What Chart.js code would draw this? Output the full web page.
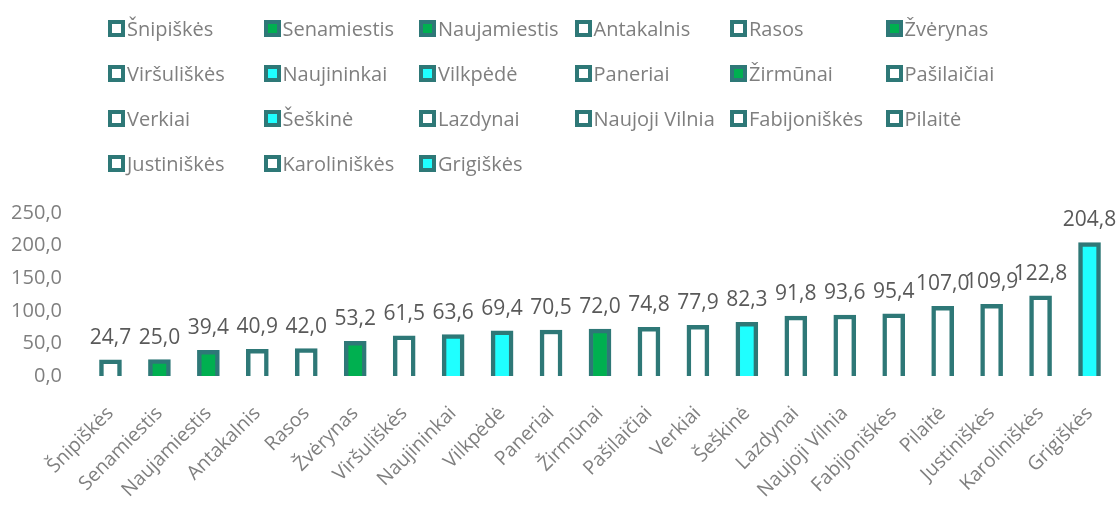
<!DOCTYPE html>
<html>
<head>
<meta charset="utf-8">
<script src="https://cdn.jsdelivr.net/npm/chart.js@4"></script>
<style>
  body { margin: 0; background: #fff; }
  #wrap { position: relative; width: 1117px; height: 514px; }
  #legend {
    position: absolute; left: 108px; top: 6px;
    display: grid; grid-template-columns: repeat(6, 155.5px); grid-auto-rows: 45px;
    font-family: 'Open Sans'; font-size: 20px; color: #7f7f7f;
  }
  .item { display: flex; align-items: center; white-space: nowrap; }
  .box { width: 9px; height: 9px; border: 4px solid #2e7877; margin-right: 2px; flex: none; }
</style>
</head>
<body>
<div id="wrap">
  <canvas id="myChart" width="1117" height="514"></canvas>
  <div id="legend"></div>
</div>
<script>
const districts = ['Šnipiškės', 'Senamiestis', 'Naujamiestis', 'Antakalnis', 'Rasos', 'Žvėrynas',
  'Viršuliškės', 'Naujininkai', 'Vilkpėdė', 'Paneriai', 'Žirmūnai', 'Pašilaičiai',
  'Verkiai', 'Šeškinė', 'Lazdynai', 'Naujoji Vilnia', 'Fabijoniškės', 'Pilaitė',
  'Justiniškės', 'Karoliniškės', 'Grigiškės'];
const values = [24.7, 25.0, 39.4, 40.9, 42.0, 53.2, 61.5, 63.6, 69.4, 70.5, 72.0, 74.8,
  77.9, 82.3, 91.8, 93.6, 95.4, 107.0, 109.9, 122.8, 204.8];
// w = white, g = green, c = cyan
const fills = ['w', 'g', 'g', 'w', 'w', 'g', 'w', 'c', 'c', 'w', 'g', 'w',
  'w', 'c', 'w', 'w', 'w', 'w', 'w', 'w', 'c'];
const yTicks = [0, 50, 100, 150, 200, 250];

const fillColors = { w: '#ffffff', g: '#00b050', c: '#1fffff' };
const edge = '#2e7877';
const fmt = v => v.toFixed(1).replace('.', ',');

// legend
const legend = document.getElementById('legend');
districts.forEach((name, i) => {
  const item = document.createElement('div');
  item.className = 'item';
  const box = document.createElement('span');
  box.className = 'box';
  box.style.background = fillColors[fills[i]];
  const txt = document.createElement('span');
  txt.textContent = name;
  item.append(box, txt);
  legend.append(item);
});

const valueLabels = {
  id: 'valueLabels',
  afterDatasetsDraw(chart) {
    const ctx = chart.ctx;
    const meta = chart.getDatasetMeta(0);
    ctx.save();
    ctx.font = '21px "Open Sans"';
    ctx.fillStyle = '#595959';
    ctx.textAlign = 'center';
    ctx.textBaseline = 'alphabetic';
    meta.data.forEach((bar, i) => {
      ctx.fillText(fmt(values[i]), bar.x, bar.y - 16);
    });
    ctx.restore();
  }
};

var ctx = document.getElementById('myChart').getContext('2d');

var myChart = new Chart(ctx, {
  type: 'bar',
  data: {
    labels: districts,
    datasets: [{
      data: values,
      backgroundColor: fills.map(f => fillColors[f]),
      borderColor: edge,
      borderWidth: 4.5,
      barThickness: 22
    }]
  },
  options: {
    responsive: false,
    animation: false,
    layout: { padding: { top: 213, right: 3, left: 0, bottom: 0 } },
    plugins: {
      legend: { display: false },
      tooltip: { enabled: false }
    },
    scales: {
      x: {
        grid: { display: false, drawTicks: false },
        border: { display: false },
        ticks: {
          color: '#7f7f7f',
          font: { family: 'Open Sans', size: 19.5 },
          minRotation: 45,
          maxRotation: 45,
          autoSkip: false,
          padding: 26
        },
        afterFit: s => {
          s.height = 138;
          s.paddingLeft = 0;
          s.paddingRight = 0;
        }
      },
      y: {
        min: 0,
        max: 250,
        afterBuildTicks: s => { s.ticks = yTicks.map(v => ({ value: v })); },
        grid: { display: false, drawTicks: false },
        border: { display: false },
        ticks: {
          color: '#7f7f7f',
          font: { family: 'Open Sans', size: 20 },
          padding: 24,
          callback: v => fmt(v)
        },
        afterFit: s => { s.width = 86; }
      }
    }
  },
  plugins: [valueLabels]
});
</script>
</body>
</html>
